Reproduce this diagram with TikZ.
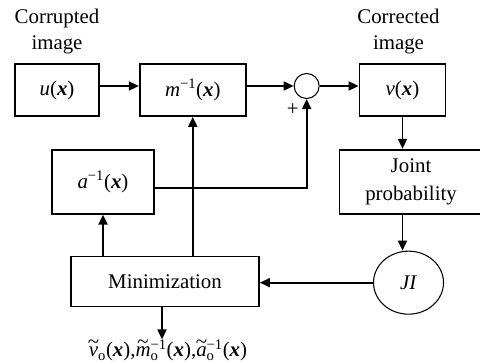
\documentclass[tikz,border=0pt]{standalone}
\usepackage{fontspec}
\setmainfont{Liberation Serif}
\usepackage{tikz}
\usetikzlibrary{arrows.meta,positioning,shapes.geometric}
\newcommand{\bx}{\textbf{\textit{x}}}
% italic letter with a tilde on top
\newcommand{\wtil}[1]{\leavevmode\setbox0\hbox{\textit{#1}}\rlap{\hbox to \wd0{\hss\raisebox{0.42em}{\textasciitilde}\hss}}\box0}
% stacked sub- and superscript
\newcommand{\subsup}[2]{\rlap{\textsubscript{#1}}\textsuperscript{#2}}
\tikzset{
    blockbase/.style={
        rectangle,
        draw=black,
        line width=1.5pt,
        minimum height=15.6mm,
        align=center,
        inner sep=0pt
    },
    sumnode/.style={circle, draw=black, line width=0.9pt, minimum size=7.5mm, inner sep=0pt},
    costnode/.style={ellipse, draw=black, line width=0.9pt, minimum width=21mm, minimum height=18.9mm, inner sep=0pt},
    caption/.style={align=center, inner sep=0pt, font=\fontsize{17.8}{22}\selectfont},
    line/.style={-{Triangle[length=3mm,width=2.7mm]}, line width=1.5pt},
}
\begin{document}
\begin{tikzpicture}[font=\fontsize{17.8}{21}\selectfont]
    \useasboundingbox (0,0) rectangle (144mm,-109.2mm);
    \node[blockbase, minimum width=25.2mm] (u) at (17.1mm,-27mm) {\textit{u}(\bx)};
    \node[blockbase, minimum width=31.8mm, right=11.7mm of u] (m) {\textit{m}\textsuperscript{−1}(\bx)};
    \node[sumnode, right=14.1mm of m, yshift=1.2mm] (sum) {};
    \node[blockbase, minimum width=25.8mm, right=33.6mm of m] (v) {\textit{v}(\bx)};
    \node[blockbase, minimum width=30.6mm, minimum height=19.2mm, below=9.6mm of u, xshift=13.8mm] (a) {\textit{a}\textsuperscript{−1}(\bx)};
    \node[blockbase, minimum width=42.9mm, minimum height=19.2mm, below=9.6mm of v, xshift=2.55mm, font=\fontsize{17.8}{24}\selectfont] (joint) {Joint\\probability};
    \node[blockbase, minimum width=56.4mm, minimum height=15mm, below=12.3mm of a, xshift=18.6mm] (min) {Minimization};
    \node[costnode, below=10.8mm of joint, xshift=-0.75mm] (ji) {\textit{JI}};
    \node[inner sep=0pt, below=9.6mm of min, xshift=0.9mm] (out) {\wtil{v}\textsubscript{o}(\bx),\wtil{m}\subsup{o}{−1}(\bx),\wtil{a}\subsup{o}{−1}(\bx)};
    \node[caption, above=2.8mm of u] (incap) {Corrupted\\image};
    \node[caption, above=2.8mm of v, xshift=-1.2mm] (outcap) {Corrected\\image};

    \draw[line] (u.east |- sum) -- (m.west |- sum);
    \draw[line] (m.east |- sum) -- (sum.west);
    \draw[line] (sum.east) -- (v.west |- sum);
    \draw[line] (v.south) -- (v.south |- joint.north);
    \draw[line] (v.south |- joint.south) -- (v.south |- ji.north);
    \draw[line] (ji.west) -- (ji.west -| min.east);
    \draw[line] (a.south |- min.north) -- (a.south);
    \draw[line] (m.south |- min.north) -- (m.south);
    \draw[line] ([yshift=-1.8mm]a.east) -| node[pos=0.94, left=1mm] (plus) {+} (sum.south);
    \draw[line] ([xshift=-0.9mm]min.south) -- ([xshift=-0.9mm]min.south |- out.north);
\end{tikzpicture}
\end{document}
